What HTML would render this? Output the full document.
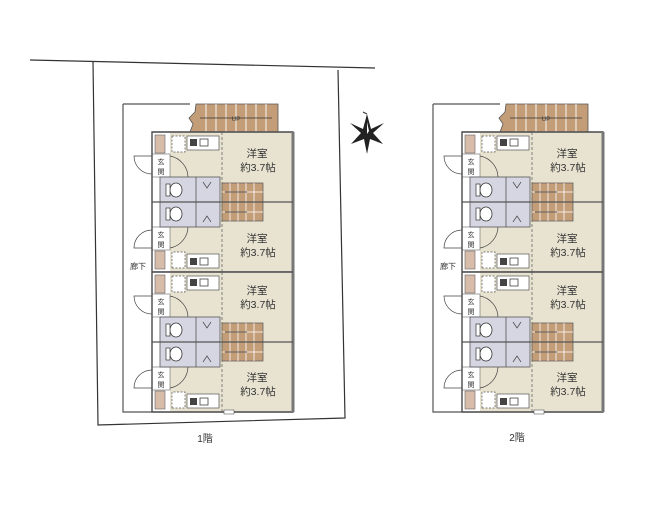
<!DOCTYPE html>
<html><head><meta charset="utf-8"><style>
html,body{margin:0;padding:0;background:#fff;}
svg{display:block;}
text{font-family:"Liberation Sans","Noto Sans CJK JP",sans-serif;}
</style></head><body>
<svg width="659" height="507" viewBox="0 0 659 507" xmlns="http://www.w3.org/2000/svg">
<defs>
<g id="unit">
  <rect x="0" y="0" width="141" height="70" fill="#e8e3d0"/>
  <rect x="0" y="0" width="18" height="70" fill="#fff"/>
  <rect x="3" y="3" width="10" height="18" fill="#d7bca9" stroke="#666" stroke-width="0.6"/>
  <rect x="0" y="22" width="18" height="23" fill="#fff" stroke="#666" stroke-width="0.6"/>
  <path d="M0 24 L-18 24 A18 18 0 0 0 0 42" fill="none" stroke="#444" stroke-width="0.7"/>
  <path d="M18 24 A22 22 0 0 1 36 46" fill="none" stroke="#444" stroke-width="0.7"/>
  <rect x="20" y="4" width="13" height="16" fill="#fff" stroke="#555" stroke-width="0.7" stroke-dasharray="2,1.5"/>
  <rect x="35" y="4" width="32" height="14" fill="#fff" stroke="#555" stroke-width="0.7"/>
  <rect x="38" y="7" width="7" height="7" fill="#444"/>
  <rect x="48" y="7" width="8" height="7" fill="#fff" stroke="#444" stroke-width="0.8"/>
  <line x1="70" y1="0" x2="70" y2="70" stroke="#666" stroke-width="0.8" stroke-dasharray="3,2"/>
  <rect x="8" y="45" width="60" height="25" fill="#d6d6e3" stroke="#555" stroke-width="0.8"/>
  <line x1="44" y1="45" x2="44" y2="70" stroke="#555" stroke-width="0.8"/>
  <ellipse cx="24" cy="58" rx="6" ry="7" fill="#fff" stroke="#333" stroke-width="0.8"/>
  <rect x="14" y="52" width="4" height="12" fill="#fff" stroke="#333" stroke-width="0.7"/>
  <path d="M51 50 L55 56 L59 50" fill="none" stroke="#444" stroke-width="0.7"/>
  <rect x="70" y="51" width="41" height="19" fill="#c39d78" stroke="#555" stroke-width="0.7"/>
  <path d="M78 51V70M86 51V70M94 51V70M102 51V70M70 60H111" stroke="#fff" stroke-width="0.8"/>
  <path d="M73 60 H95" stroke="#333" stroke-width="0.7"/>
  <line x1="0" y1="0" x2="141" y2="0" stroke="#555" stroke-width="1.2"/>
</g>
<g id="bldg">
  <path d="M-29 -28 H38 M-29 -28 V280 H0" fill="none" stroke="#555" stroke-width="1.2"/>
  <path d="M44 -28 H126 V0 H38 L41 -8 L37 -14 L43 -20 Z" fill="#c39d78" stroke="#555" stroke-width="0.8"/>
  <path d="M54 -28V0M64 -28V0M74 -28V0M84 -28V0M94 -28V0M104 -28V0M114 -28V0" stroke="#fff" stroke-width="0.9"/>
  <path d="M48 -14 H120" stroke="#333" stroke-width="0.7"/>
  <text x="84" y="-11" font-size="6" text-anchor="middle" fill="#333">UP</text>
  <use href="#unit" x="0" y="0"/>
  <use href="#unit" transform="translate(0,140) scale(1,-1)"/>
  <use href="#unit" x="0" y="140"/>
  <use href="#unit" transform="translate(0,280) scale(1,-1)"/>
  <rect x="0" y="0" width="141" height="280" fill="none" stroke="#555" stroke-width="1.5"/>
  <line x1="141" y1="0" x2="141" y2="280" stroke="#777" stroke-width="3"/>
  <line x1="0" y1="70" x2="141" y2="70" stroke="#555" stroke-width="1.2"/>
  <line x1="0" y1="140" x2="141" y2="140" stroke="#555" stroke-width="1.5"/>
  <line x1="0" y1="210" x2="141" y2="210" stroke="#555" stroke-width="1.2"/>
  <rect x="72" y="278" width="10" height="4" fill="#fff" stroke="#555" stroke-width="0.6"/>
  <g font-size="7" text-anchor="middle" fill="#333">
    <text x="9" y="32">玄</text><text x="9" y="42">関</text>
    <text x="9" y="105">玄</text><text x="9" y="115">関</text>
    <text x="9" y="172">玄</text><text x="9" y="182">関</text>
    <text x="9" y="245">玄</text><text x="9" y="255">関</text>
  </g>
  <g font-size="10.5" text-anchor="middle" fill="#333">
    <text x="105" y="25">洋室</text><text x="106" y="39">約3.7帖</text>
    <text x="105" y="110">洋室</text><text x="106" y="124">約3.7帖</text>
    <text x="105" y="162">洋室</text><text x="106" y="176">約3.7帖</text>
    <text x="105" y="249">洋室</text><text x="106" y="263">約3.7帖</text>
  </g>
</g>
</defs>
<path d="M30 60 L375 68" stroke="#333" stroke-width="1.2" fill="none"/>
<path d="M93 62 L98 425 L345 418 L338 70" stroke="#333" stroke-width="1.2" fill="none"/>
<use href="#bldg" x="152" y="132"/>
<use href="#bldg" x="462" y="132"/>
<text x="130" y="269" font-size="8" fill="#333">廊下</text>
<text x="440" y="269" font-size="8" fill="#333">廊下</text>
<text x="205" y="442" font-size="10" text-anchor="middle" fill="#333">1階</text>
<text x="517" y="441" font-size="10" text-anchor="middle" fill="#333">2階</text>
<g transform="translate(367,134)">
  <path d="M0 -20 L4 -5 L17 -11 L6 -1 L16 10 L3 5 L0 20 L-3 5 L-16 10 L-6 -1 L-17 -11 L-4 -5 Z" fill="#222"/>
  <path d="M0 -12 L2 -3 L0 0 Z" fill="#fff"/>
  <line x1="-4" y1="-22" x2="0" y2="-20" stroke="#333" stroke-width="1"/>
</g>
</svg>
</body></html>
